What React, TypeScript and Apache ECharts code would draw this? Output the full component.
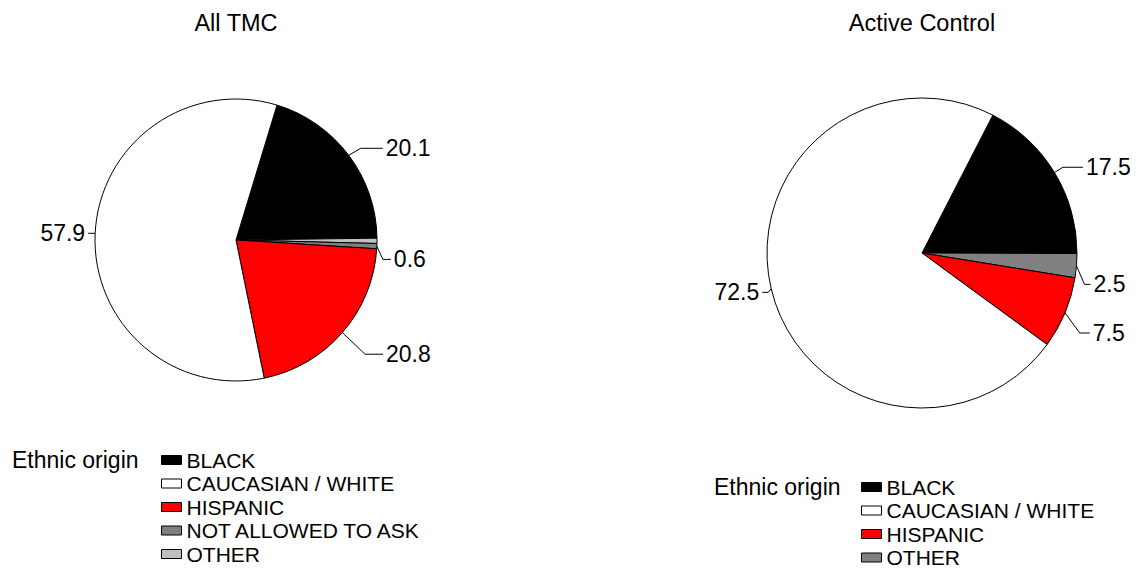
import React, { useEffect, useRef } from "react";
import * as echarts from "echarts";

const FONT = "'Liberation Sans', Arial, sans-serif";

const legendNames = ["BLACK", "CAUCASIAN / WHITE", "HISPANIC", "NOT ALLOWED TO ASK", "OTHER"];

// Left pie (All TMC), clockwise order as drawn
const leftNames = ["BLACK", "OTHER", "NOT ALLOWED TO ASK", "HISPANIC", "CAUCASIAN / WHITE"];
const leftValues = [20.1, 0.6, 0.6, 20.8, 57.9];
const leftColors = ["#000000", "#c0c0c0", "#808080", "#ff0000", "#ffffff"];
const leftShowLabel = [true, false, true, true, true];
const leftLen = [15, 0, 6, 30, 3];
const leftLen2 = [22, 0, 8, 18, 4];
const leftDy = [2, 0, 13, 2, 0];

// Right pie (Active Control)
const rightNames = ["BLACK", "OTHER", "HISPANIC", "CAUCASIAN / WHITE"];
const rightValues = [17.5, 2.5, 7.5, 72.5];
const rightColors = ["#000000", "#808080", "#ff0000", "#ffffff"];
const rightLen = [10, 8, 16, 3];
const rightLen2 = [20, 6, 10, 6];
const rightDy = [0, 18, 14, 3];

const legendColorsLeft: Record<string, string> = {
  "BLACK": "#000000",
  "CAUCASIAN / WHITE": "#ffffff",
  "HISPANIC": "#ff0000",
  "NOT ALLOWED TO ASK": "#808080",
  "OTHER": "#c0c0c0",
};
const legendNamesRight = ["BLACK", "CAUCASIAN / WHITE", "HISPANIC", "OTHER"];
const legendColorsRight: Record<string, string> = {
  "BLACK": "#000000",
  "CAUCASIAN / WHITE": "#ffffff",
  "HISPANIC": "#ff0000",
  "OTHER": "#808080",
};

function buildData(names: string[], values: number[], colors: string[], len: number[], len2: number[], show?: boolean[]) {
  return names.map((n, i) => ({
    name: n,
    value: values[i],
    itemStyle: { color: colors[i] },
    label: { show: show ? show[i] : true },
    labelLine: { show: show ? show[i] : true, length: len[i], length2: len2[i] },
  }));
}

function makeLayout(dys: number[]) {
  return (params: any) => {
    const dy = dys[params.dataIndex] || 0;
    if (!dy) return {};
    const res: any = { dy };
    if (params.labelLinePoints && params.labelLinePoints.length) {
      res.labelLinePoints = params.labelLinePoints.map((p: number[], i: number) =>
        i === 0 ? [p[0], p[1]] : [p[0], p[1] + dy]
      );
    }
    return res;
  };
}

export default function App() {
  const ref = useRef<HTMLDivElement>(null);
  useEffect(() => {
    if (!ref.current) return;
    const chart = echarts.init(ref.current, undefined, { renderer: "svg" });
    const pieCommon = {
      type: "pie",
      clockwise: true,
      avoidLabelOverlap: false,
      silent: true,
      itemStyle: { borderColor: "#000", borderWidth: 1 },
      label: {
        show: true,
        position: "outside",
        color: "#000",
        fontSize: 23,
        fontFamily: FONT,
        distanceToLabelLine: 3,
        formatter: (p: any) => Number(p.value).toFixed(1),
      },
      labelLine: { show: true, smooth: false, lineStyle: { color: "#000", width: 1 } },
      emphasis: { disabled: true },
    };
    const legendCommon = {
      orient: "vertical",
      icon: "rect",
      itemWidth: 20,
      itemHeight: 9,
      itemGap: 2.5,
      padding: 0,
      selectedMode: false,
      itemStyle: { borderColor: "#000", borderWidth: 1 },
      textStyle: { fontSize: 21, color: "#000", fontFamily: FONT },
    };
    const txt = (text: string, x: number, y: number, size: number, align: string) => ({
      type: "text",
      x,
      y,
      style: { text, fill: "#000", font: `${size}px ${FONT}`, align, verticalAlign: "middle", textAlign: align, textVerticalAlign: "middle" },
    });
    chart.setOption({
      animation: false,
      backgroundColor: "#ffffff",
      graphic: [
        txt("All TMC", 236, 23, 23.5, "center"),
        txt("Active Control", 922, 23, 23.5, "center"),
        txt("Ethnic origin", 12, 460, 23, "left"),
        txt("Ethnic origin", 714, 487, 23, "left"),
      ],
      legend: [
        {
          ...legendCommon,
          left: 161,
          top: 449.5,
          data: legendNames.map((n) => ({ name: n, itemStyle: { color: legendColorsLeft[n], borderColor: "#000", borderWidth: 1 } })),
        },
        {
          ...legendCommon,
          left: 861,
          top: 476.5,
          data: legendNamesRight.map((n) => ({ name: n, itemStyle: { color: legendColorsRight[n], borderColor: "#000", borderWidth: 1 } })),
        },
      ],
      series: [
        {
          ...pieCommon,
          name: "All TMC",
          center: [236, 240],
          radius: 141,
          startAngle: 73.1,
          labelLayout: makeLayout(leftDy),
          data: buildData(leftNames, leftValues, leftColors, leftLen, leftLen2, leftShowLabel),
        },
        {
          ...pieCommon,
          name: "Active Control",
          center: [922, 253],
          radius: 155,
          startAngle: 62.8,
          labelLayout: makeLayout(rightDy),
          data: buildData(rightNames, rightValues, rightColors, rightLen, rightLen2),
        },
      ],
    });
    return () => chart.dispose();
  }, []);
  return (
    <div
      ref={ref}
      style={{ position: "absolute", left: 0, top: 0, width: 1136, height: 576, background: "#fff" }}
    />
  );
}
